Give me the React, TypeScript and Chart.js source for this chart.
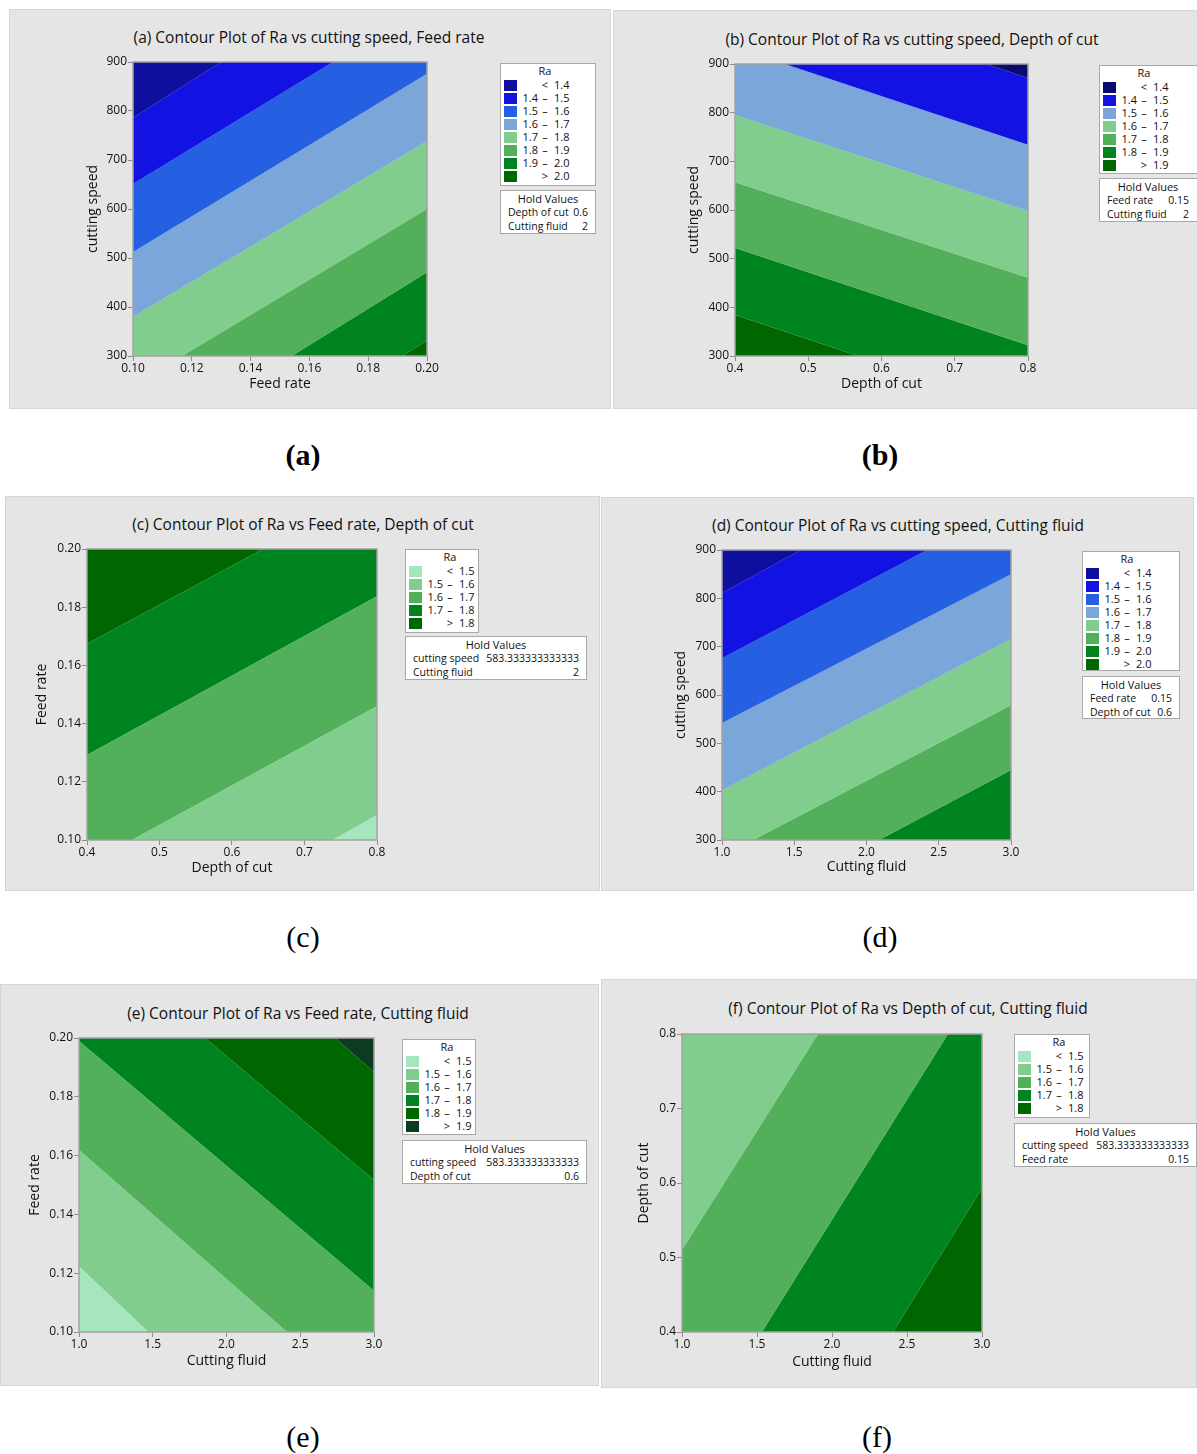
import React, { useEffect, useRef } from 'react';
import { Chart, registerables } from 'chart.js';

Chart.register(...registerables);

const FONT = '"Open Sans", "Noto Sans", "DejaVu Sans", sans-serif';
const SERIF = '"Liberation Serif", "Times New Roman", serif';
const INK = '#111111';

// ---------- palette ----------
const NAVY = '#0f0f9f';
const NAVY_DARK = '#0b0b6e';
const BLUE = '#1212e2';
const ROYAL = '#2460e1';
const STEEL = '#7aa6da';
const MINT = '#a6e6bf';
const LGREEN = '#80cd8e';
const MGREEN = '#52b05a';
const GREEN = '#00841f';
const DGREEN = '#006600';
const VDARK = '#0b3b20';

// ---------- (a) ----------
const aTitle = '(a) Contour Plot of Ra vs cutting speed, Feed rate';
const aXTitle = 'Feed rate';
const aYTitle = 'cutting speed';
const aXTicks = ['0.10', '0.12', '0.14', '0.16', '0.18', '0.20'];
const aYTicks = ['300', '400', '500', '600', '700', '800', '900'];
const aLegendLevels = [1.4, 1.5, 1.6, 1.7, 1.8, 1.9, 2.0];
const aColors = [NAVY, BLUE, ROYAL, STEEL, LGREEN, MGREEN, GREEN, DGREEN];
const aContourLevels = [1.4, 1.5, 1.6, 1.7, 1.8, 1.9, 2.0];
// each contour line: where it enters and leaves the plot [x1, y1, x2, y2]
const aContourEnds = [
  [0.1, 786, 0.13, 900],
  [0.1, 651, 0.168, 900],
  [0.1, 512, 0.2, 876],
  [0.1, 380, 0.2, 739],
  [0.1167, 300, 0.2, 600],
  [0.154, 300, 0.2, 471],
  [0.1915, 300, 0.2, 331],
];
const aHoldNames = ['Depth of cut', 'Cutting fluid'];
const aHoldValues = ['0.6', '2'];

// ---------- (b) ----------
const bTitle = '(b) Contour Plot of Ra vs cutting speed, Depth of cut';
const bXTitle = 'Depth of cut';
const bYTitle = 'cutting speed';
const bXTicks = ['0.4', '0.5', '0.6', '0.7', '0.8'];
const bYTicks = ['300', '400', '500', '600', '700', '800', '900'];
const bLegendLevels = [1.4, 1.5, 1.6, 1.7, 1.8, 1.9];
const bColors = [NAVY_DARK, BLUE, STEEL, LGREEN, MGREEN, GREEN, DGREEN];
const bContourLevels = [1.4, 1.5, 1.6, 1.7, 1.8, 1.9];
const bContourEnds = [
  [0.743, 900, 0.8, 871],
  [0.468, 900, 0.8, 734],
  [0.4, 795, 0.8, 598],
  [0.4, 657, 0.8, 461],
  [0.4, 522, 0.8, 322],
  [0.4, 384, 0.568, 300],
];
const bHoldNames = ['Feed rate', 'Cutting fluid'];
const bHoldValues = ['0.15', '2'];

// ---------- (c) ----------
const cTitle = '(c) Contour Plot of Ra vs Feed rate, Depth of cut';
const cXTitle = 'Depth of cut';
const cYTitle = 'Feed rate';
const cXTicks = ['0.4', '0.5', '0.6', '0.7', '0.8'];
const cYTicks = ['0.10', '0.12', '0.14', '0.16', '0.18', '0.20'];
const cLegendLevels = [1.5, 1.6, 1.7, 1.8];
const cColors = [MINT, LGREEN, MGREEN, GREEN, DGREEN];
const cContourLevels = [1.5, 1.6, 1.7, 1.8];
const cContourEnds = [
  [0.739, 0.1, 0.8, 0.1086],
  [0.462, 0.1, 0.8, 0.146],
  [0.4, 0.1292, 0.8, 0.1838],
  [0.4, 0.1674, 0.643, 0.2],
];
const cHoldNames = ['cutting speed', 'Cutting fluid'];
const cHoldValues = ['583.333333333333', '2'];

// ---------- (d) ----------
const dTitle = '(d) Contour Plot of Ra vs cutting speed, Cutting fluid';
const dXTitle = 'Cutting fluid';
const dYTitle = 'cutting speed';
const dXTicks = ['1.0', '1.5', '2.0', '2.5', '3.0'];
const dYTicks = ['300', '400', '500', '600', '700', '800', '900'];
const dLegendLevels = [1.4, 1.5, 1.6, 1.7, 1.8, 1.9, 2.0];
const dColors = [NAVY, BLUE, ROYAL, STEEL, LGREEN, MGREEN, GREEN, DGREEN];
const dContourLevels = [1.4, 1.5, 1.6, 1.7, 1.8, 1.9];
const dContourEnds = [
  [1.0, 811, 1.547, 900],
  [1.0, 676, 2.42, 900],
  [1.0, 542, 3.0, 850],
  [1.0, 403, 3.0, 716],
  [1.215, 300, 3.0, 579],
  [2.087, 300, 3.0, 445],
];
const dHoldNames = ['Feed rate', 'Depth of cut'];
const dHoldValues = ['0.15', '0.6'];

// ---------- (e) ----------
const eTitle = '(e) Contour Plot of Ra vs Feed rate, Cutting fluid';
const eXTitle = 'Cutting fluid';
const eYTitle = 'Feed rate';
const eXTicks = ['1.0', '1.5', '2.0', '2.5', '3.0'];
const eYTicks = ['0.10', '0.12', '0.14', '0.16', '0.18', '0.20'];
const eLegendLevels = [1.5, 1.6, 1.7, 1.8, 1.9];
const eColors = [MINT, LGREEN, MGREEN, GREEN, DGREEN, VDARK];
const eContourLevels = [1.5, 1.6, 1.7, 1.8, 1.9];
const eContourEnds = [
  [1.0, 0.1224, 1.47, 0.1],
  [1.0, 0.1619, 2.41, 0.1],
  [1.0, 0.199, 3.0, 0.114],
  [1.854, 0.2, 3.0, 0.1517],
  [2.736, 0.2, 3.0, 0.1884],
];
const eHoldNames = ['cutting speed', 'Depth of cut'];
const eHoldValues = ['583.333333333333', '0.6'];

// ---------- (f) ----------
const fTitle = '(f) Contour Plot of Ra vs Depth of cut, Cutting fluid';
const fXTitle = 'Cutting fluid';
const fYTitle = 'Depth of cut';
const fXTicks = ['1.0', '1.5', '2.0', '2.5', '3.0'];
const fYTicks = ['0.4', '0.5', '0.6', '0.7', '0.8'];
const fLegendLevels = [1.5, 1.6, 1.7, 1.8];
const fColors = [MINT, LGREEN, MGREEN, GREEN, DGREEN];
const fContourLevels = [1.6, 1.7, 1.8];
const fContourEnds = [
  [1.0, 0.51, 1.907, 0.8],
  [1.533, 0.4, 2.773, 0.8],
  [2.407, 0.4, 3.0, 0.593],
];
const fHoldNames = ['cutting speed', 'Feed rate'];
const fHoldValues = ['583.333333333333', '0.15'];

// ---------- layout (page pixels) ----------
type Layout = {
  panel: number[]; // x, y, w, h
  title: number[]; // cx, cy
  plot: number[]; // left, top, right, bottom
  yT: number; // y-axis title centre distance left of plot
  xT: number; // x-axis title centre distance below plot
  legend: number[]; // x, y, w, h
  hold: number[]; // x, y, w, h
  caption: [number, number, string, string];
};

const LAYOUTS: Record<string, Layout> = {
  a: { panel: [9, 9, 602, 400], title: [309, 37], plot: [133, 62, 427, 356], yT: 40, xT: 28, legend: [500, 63, 96, 123], hold: [500, 190, 96, 44], caption: [303, 455, '(a)', 'bold'] },
  b: { panel: [613, 10, 590, 399], title: [912, 39], plot: [735, 64, 1028, 356], yT: 41, xT: 28, legend: [1099, 65, 102, 109], hold: [1099, 178, 102, 44], caption: [880, 455, '(b)', 'bold'] },
  c: { panel: [5, 496, 595, 395], title: [303, 524], plot: [87, 549, 377, 840], yT: 45, xT: 28, legend: [405, 549, 74, 84], hold: [405, 636, 182, 44], caption: [303, 937, '(c)', 'normal'] },
  d: { panel: [601, 497, 593, 394], title: [898, 525], plot: [722, 550, 1011, 840], yT: 41, xT: 27, legend: [1082, 551, 98, 120], hold: [1082, 676, 98, 43], caption: [880, 937, '(d)', 'normal'] },
  e: { panel: [0, 984, 599, 402], title: [298, 1013], plot: [79, 1038, 374, 1332], yT: 44, xT: 29, legend: [402, 1039, 74, 96], hold: [402, 1140, 185, 44], caption: [303, 1437, '(e)', 'normal'] },
  f: { panel: [601, 979, 596, 409], title: [908, 1008], plot: [682, 1034, 982, 1332], yT: 38, xT: 30, legend: [1014, 1034, 76, 84], hold: [1014, 1123, 183, 44], caption: [877, 1437, '(f)', 'normal'] },
};

type PlotDef = {
  key: string;
  title: string;
  xTitle: string;
  yTitle: string;
  xTicks: string[];
  yTicks: string[];
  legendLevels: number[];
  colors: string[];
  contourLevels: number[];
  contourEnds: number[][];
  holdNames: string[];
  holdValues: string[];
};

const PLOTS: PlotDef[] = [
  { key: 'a', title: aTitle, xTitle: aXTitle, yTitle: aYTitle, xTicks: aXTicks, yTicks: aYTicks, legendLevels: aLegendLevels, colors: aColors, contourLevels: aContourLevels, contourEnds: aContourEnds, holdNames: aHoldNames, holdValues: aHoldValues },
  { key: 'b', title: bTitle, xTitle: bXTitle, yTitle: bYTitle, xTicks: bXTicks, yTicks: bYTicks, legendLevels: bLegendLevels, colors: bColors, contourLevels: bContourLevels, contourEnds: bContourEnds, holdNames: bHoldNames, holdValues: bHoldValues },
  { key: 'c', title: cTitle, xTitle: cXTitle, yTitle: cYTitle, xTicks: cXTicks, yTicks: cYTicks, legendLevels: cLegendLevels, colors: cColors, contourLevels: cContourLevels, contourEnds: cContourEnds, holdNames: cHoldNames, holdValues: cHoldValues },
  { key: 'd', title: dTitle, xTitle: dXTitle, yTitle: dYTitle, xTicks: dXTicks, yTicks: dYTicks, legendLevels: dLegendLevels, colors: dColors, contourLevels: dContourLevels, contourEnds: dContourEnds, holdNames: dHoldNames, holdValues: dHoldValues },
  { key: 'e', title: eTitle, xTitle: eXTitle, yTitle: eYTitle, xTicks: eXTicks, yTicks: eYTicks, legendLevels: eLegendLevels, colors: eColors, contourLevels: eContourLevels, contourEnds: eContourEnds, holdNames: eHoldNames, holdValues: eHoldValues },
  { key: 'f', title: fTitle, xTitle: fXTitle, yTitle: fYTitle, xTicks: fXTicks, yTicks: fYTicks, legendLevels: fLegendLevels, colors: fColors, contourLevels: fContourLevels, contourEnds: fContourEnds, holdNames: fHoldNames, holdValues: fHoldValues },
];

// ---------- geometry helpers (build filled bands from contour lines) ----------
type P = [number, number];

function sideOf(l: number[], p: P) {
  return (l[2] - l[0]) * (p[1] - l[1]) - (l[3] - l[1]) * (p[0] - l[0]);
}

function clipHalf(poly: P[], l: number[], sign: number): P[] {
  const out: P[] = [];
  for (let i = 0; i < poly.length; i++) {
    const cur = poly[i];
    const prev = poly[(i + poly.length - 1) % poly.length];
    const sc = sideOf(l, cur) * sign;
    const sp = sideOf(l, prev) * sign;
    const cross = (): P => {
      const t = sp / (sp - sc);
      return [prev[0] + t * (cur[0] - prev[0]), prev[1] + t * (cur[1] - prev[1])];
    };
    if (sc >= 0) {
      if (sp < 0) out.push(cross());
      out.push(cur);
    } else if (sp >= 0) {
      out.push(cross());
    }
  }
  return out;
}

function buildBands(xr: number[], yr: number[], lines: number[][]): P[][] {
  const rect: P[] = [[xr[0], yr[0]], [xr[1], yr[0]], [xr[1], yr[1]], [xr[0], yr[1]]];
  const n = lines.length;
  const mid = (l: number[]): P => [(l[0] + l[2]) / 2, (l[1] + l[3]) / 2];
  const low = lines.map((l, k) => (k > 0 ? Math.sign(sideOf(l, mid(lines[k - 1]))) : -Math.sign(sideOf(l, mid(lines[1])))));
  const bands: P[][] = [];
  for (let i = 0; i <= n; i++) {
    let poly = rect;
    if (i > 0) poly = clipHalf(poly, lines[i - 1], -low[i - 1]);
    if (i < n) poly = clipHalf(poly, lines[i], low[i]);
    bands.push(poly);
  }
  return bands;
}

const frame = {
  id: 'plotFrame',
  afterDraw(chart: any) {
    const { ctx, chartArea: a } = chart;
    ctx.save();
    ctx.strokeStyle = '#a2a2a2';
    ctx.lineWidth = 1.5;
    ctx.strokeRect(a.left, a.top, a.right - a.left, a.bottom - a.top);
    ctx.restore();
  },
};

const PAD_T = 10;
const PAD_R = 16;
const AXIS_TITLE_SIZE = 14;
const AXIS_TITLE_LH = AXIS_TITLE_SIZE * 1.2;

function ContourChart({ def, lay }: { def: PlotDef; lay: Layout }) {
  const ref = useRef<HTMLCanvasElement>(null);
  const [pl, pt, pr, pb] = lay.plot;
  const yW = Math.round(lay.yT + AXIS_TITLE_LH / 2);
  const xH = Math.round(lay.xT + AXIS_TITLE_LH / 2);
  const W = yW + (pr - pl) + PAD_R;
  const H = PAD_T + (pb - pt) + xH;
  const left = pl - yW;
  const top = pt - PAD_T;

  useEffect(() => {
    const xv = def.xTicks.map(parseFloat);
    const yv = def.yTicks.map(parseFloat);
    const xr = [xv[0], xv[xv.length - 1]];
    const yr = [yv[0], yv[yv.length - 1]];
    const bands = buildBands(xr, yr, def.contourEnds);
    const n = def.contourLevels.length;
    const datasets = bands
      .map((poly, i) => {
        const ci = i < n ? def.legendLevels.indexOf(def.contourLevels[i]) : def.legendLevels.indexOf(def.contourLevels[n - 1]) + 1;
        return {
          data: poly.length ? [...poly, poly[0]].map(([x, y]) => ({ x, y })) : [],
          showLine: true,
          fill: 'shape',
          tension: 0,
          backgroundColor: def.colors[ci],
          borderColor: 'rgba(0,0,0,0)',
          borderWidth: 0,
          pointRadius: 0,
          pointHoverRadius: 0,
        };
      })
      .filter((d) => d.data.length > 0);

    const tickFont = { family: FONT, size: 12 };
    const titleFont = { family: FONT, size: AXIS_TITLE_SIZE };
    const chart = new Chart(ref.current as HTMLCanvasElement, {
      type: 'scatter',
      data: { datasets: datasets as any },
      options: {
        animation: false,
        responsive: false,
        maintainAspectRatio: false,
        events: [],
        layout: { padding: { top: PAD_T, right: PAD_R, left: 0, bottom: 0 } },
        plugins: { legend: { display: false }, tooltip: { enabled: false } },
        scales: {
          x: {
            type: 'linear',
            min: xr[0],
            max: xr[1],
            afterBuildTicks: (s: any) => {
              s.ticks = xv.map((v) => ({ value: v }));
            },
            afterFit: (s: any) => {
              s.height = xH;
            },
            ticks: {
              autoSkip: false,
              maxRotation: 0,
              padding: 0,
              color: INK,
              font: tickFont,
              callback: (_v: any, i: number) => def.xTicks[i],
            },
            grid: { drawOnChartArea: false, drawTicks: true, tickLength: 5, color: '#8c8c8c', lineWidth: 1 },
            border: { display: false },
            title: { display: true, text: def.xTitle, color: INK, font: titleFont, padding: 0 },
          },
          y: {
            type: 'linear',
            min: yr[0],
            max: yr[1],
            afterBuildTicks: (s: any) => {
              s.ticks = yv.map((v) => ({ value: v }));
            },
            afterFit: (s: any) => {
              s.width = yW;
            },
            ticks: {
              autoSkip: false,
              padding: 1,
              color: INK,
              font: tickFont,
              callback: (_v: any, i: number) => def.yTicks[i],
            },
            grid: { drawOnChartArea: false, drawTicks: true, tickLength: 5, color: '#8c8c8c', lineWidth: 1 },
            border: { display: false },
            title: { display: true, text: def.yTitle, color: INK, font: titleFont, padding: 0 },
          },
        },
      } as any,
      plugins: [frame],
    });
    return () => chart.destroy();
  }, []);

  return (
    <canvas
      ref={ref}
      width={W}
      height={H}
      style={{ position: 'absolute', left, top, width: W, height: H }}
    />
  );
}

const txt: React.CSSProperties = {
  position: 'absolute',
  fontFamily: FONT,
  fontSize: 11,
  color: INK,
  height: 14,
  lineHeight: '14px',
  whiteSpace: 'nowrap',
};

function Legend({ def, lay }: { def: PlotDef; lay: Layout }) {
  const [x, y, w, h] = lay.legend;
  const L = def.legendLevels;
  const last = def.colors.length - 1;
  return (
    <>
      <div style={{ position: 'absolute', left: x, top: y, width: w, height: h, boxSizing: 'border-box', background: '#fff', border: '1.5px solid #a8a8a8' }} />
      <div style={{ ...txt, left: x + 25, width: 40, top: y + 8 - 7, textAlign: 'center' }}>Ra</div>
      {def.colors.map((c, i) => {
        const cy = y + 22 + i * 13;
        let lo = '';
        let sym = '–';
        let hi = '';
        if (i === 0) {
          sym = '<';
          hi = L[0].toFixed(1);
        } else if (i === last) {
          sym = '>';
          hi = L[i - 1].toFixed(1);
        } else {
          lo = L[i - 1].toFixed(1);
          hi = L[i].toFixed(1);
        }
        return (
          <React.Fragment key={i}>
            <div style={{ position: 'absolute', left: x + 4, top: cy - 5.5, width: 13, height: 11, background: c }} />
            <div style={{ ...txt, left: x + 14, width: 24, top: cy - 7, textAlign: 'right' }}>{lo}</div>
            <div style={{ ...txt, left: x + 40, width: 10, top: cy - 7, textAlign: 'center' }}>{sym}</div>
            <div style={{ ...txt, left: x + 54, top: cy - 7 }}>{hi}</div>
          </React.Fragment>
        );
      })}
    </>
  );
}

function Hold({ def, lay }: { def: PlotDef; lay: Layout }) {
  const [x, y, w, h] = lay.hold;
  const vis = Math.min(w, 1197 - x);
  const ht: React.CSSProperties = { ...txt, fontSize: 10.5 };
  return (
    <>
      <div style={{ position: 'absolute', left: x, top: y, width: w, height: h, boxSizing: 'border-box', background: '#fff', border: '1.5px solid #a8a8a8' }} />
      <div style={{ ...txt, left: x, width: vis, top: y + 9 - 7, textAlign: 'center' }}>Hold Values</div>
      {def.holdNames.map((nm, i) => (
        <React.Fragment key={i}>
          <div style={{ ...ht, left: x + 8, top: y + 22 + i * 13.5 - 7 }}>{nm}</div>
          <div style={{ ...ht, left: x, width: vis - 8, top: y + 22 + i * 13.5 - 7, textAlign: 'right' }}>{def.holdValues[i]}</div>
        </React.Fragment>
      ))}
    </>
  );
}

function Panel({ def }: { def: PlotDef }) {
  const lay = LAYOUTS[def.key];
  const [px, py, pw, ph] = lay.panel;
  const [cx, cy, ctext, cw] = lay.caption;
  return (
    <>
      <div style={{ position: 'absolute', left: px, top: py, width: pw, height: ph, boxSizing: 'border-box', background: '#e5e5e5', border: '1px solid #d6d6d6' }} />
      <div style={{ position: 'absolute', left: lay.title[0] - 300, width: 600, top: lay.title[1] - 11, height: 22, lineHeight: '22px', textAlign: 'center', fontFamily: FONT, fontSize: 15.5, color: INK, whiteSpace: 'nowrap' }}>
        {def.title}
      </div>
      <ContourChart def={def} lay={lay} />
      <Legend def={def} lay={lay} />
      <Hold def={def} lay={lay} />
      <div style={{ position: 'absolute', left: cx - 50, width: 100, top: cy - 20, height: 40, lineHeight: '40px', textAlign: 'center', fontFamily: SERIF, fontSize: 30, fontWeight: cw as any, color: '#000' }}>
        {ctext}
      </div>
    </>
  );
}

export default function App() {
  return (
    <div style={{ position: 'absolute', left: 0, top: 0, width: 1197, height: 1454, overflow: 'hidden', background: '#fff' }}>
      {PLOTS.map((p) => (
        <Panel key={p.key} def={p} />
      ))}
    </div>
  );
}
